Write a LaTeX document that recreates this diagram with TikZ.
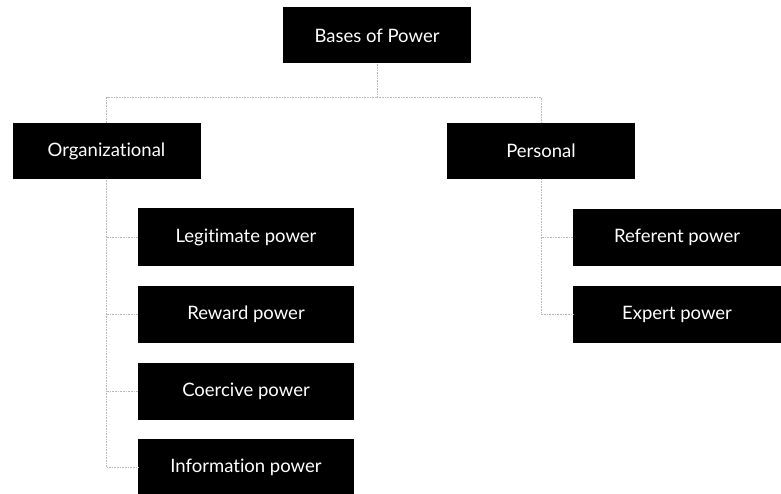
\documentclass[tikz,border=0pt]{standalone}
\usepackage{fontspec}
\setmainfont[Ligatures={NoCommon}]{Lato}
\begin{document}
\begin{tikzpicture}[x=1pt,y=-1pt,
  box/.style={fill=black, text=white, inner sep=0pt, font=\fontsize{18.5}{22}\selectfont},
  topbox/.style={box, minimum width=188pt, minimum height=56pt},
  subbox/.style={box, minimum width=216pt, minimum height=57pt},
  rsubbox/.style={box, minimum width=208pt, minimum height=57pt},
  link/.style={draw=gray!55, line width=0.6pt, densely dotted}]
\useasboundingbox (0,0) rectangle (781,494);
\node[topbox] (bases) at (377,35.5) {Bases of Power};
\node[topbox] (org) at (106.5,151.5) {Organizational};
\node[topbox] (pers) at (541,151) {Personal};
\node[subbox] (legit) at (246,237) {Legitimate power};
\node[subbox] (reward) at (246,314.5) {Reward power};
\node[subbox] (coerc) at (246,391.5) {Coercive power};
\node[subbox] (info) at (246,467) {Information power};
\node[rsubbox] (refer) at (677,237.5) {Referent power};
\node[rsubbox] (expert) at (677,314) {Expert power};
\coordinate (j) at (377,97);
\draw[link] (bases.south) -- (j);
\draw[link] (j) -| (org.north);
\draw[link] (j) -| (pers.north);
\draw[link] (org.south) |- (info.west);
\draw[link] (legit.west) -- (legit.west -| org.south);
\draw[link] (reward.west) -- (reward.west -| org.south);
\draw[link] (coerc.west) -- (coerc.west -| org.south);
\draw[link] (pers.south) |- (expert.west);
\draw[link] (refer.west) -- (refer.west -| pers.south);
\end{tikzpicture}
\end{document}
